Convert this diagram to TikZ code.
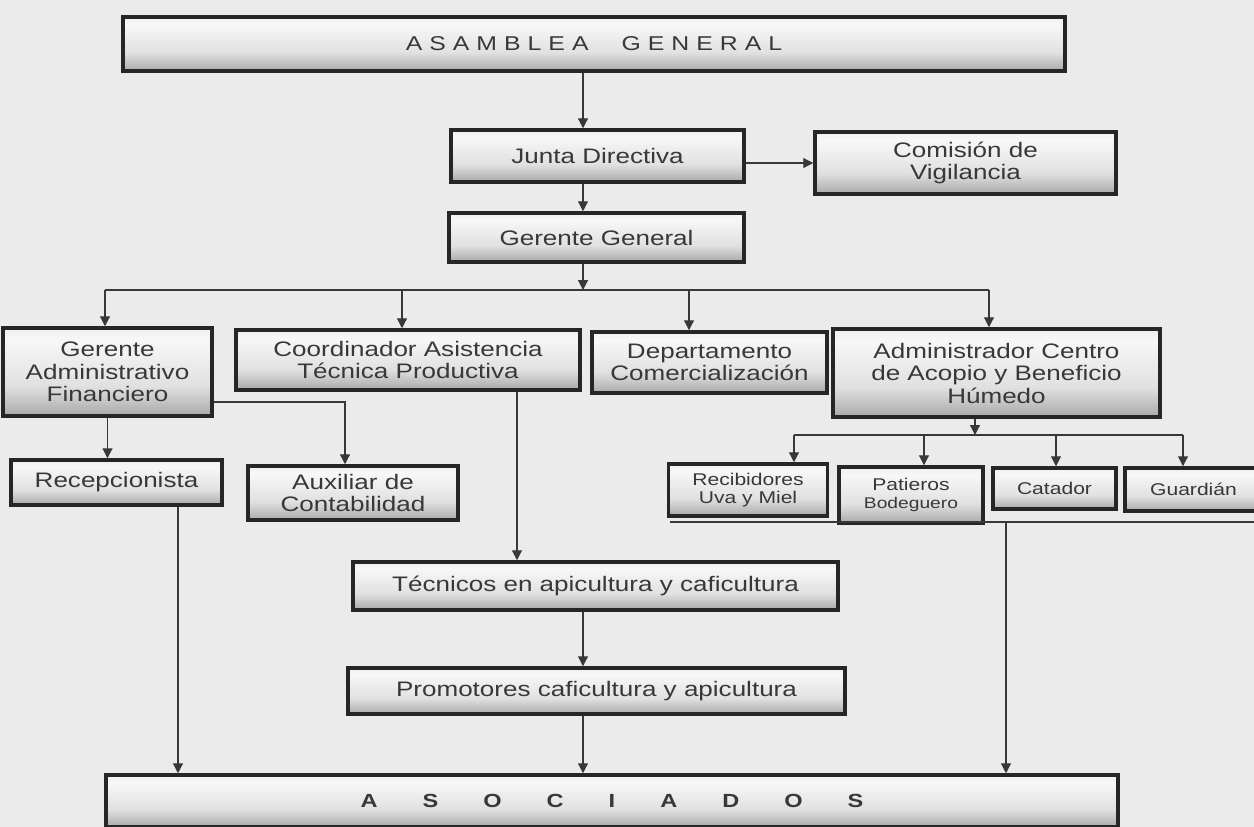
\documentclass[tikz,border=0pt]{standalone}
\usepackage{fontspec}
\setmainfont{Liberation Sans}[FakeStretch=1.24]
\usetikzlibrary{arrows.meta}
\pgfdeclareverticalshading{cajagris}{100bp}{color(0bp)=(black!72); color(14bp)=(black!48); color(42bp)=(black!12); color(68bp)=(black!3); color(88bp)=(black!12); color(100bp)=(black!32)}
\tikzset{
  caja/.style={draw=black!85,line width=3.5pt,shading=cajagris,shade,align=center,text=black!78,inner sep=0pt,font=\fontsize{21}{22.5}\selectfont},
  cajita/.style={caja,font=\fontsize{17}{18.5}\selectfont},
  enlace/.style={line width=1.2pt,draw=black!78}
}
\begin{document}
\begin{tikzpicture}[x=1pt,y=-1pt,>={Triangle[length=10pt,width=10pt]}]
\useasboundingbox (0,0) rectangle (1254,827);
\fill[black!8] (0,0) rectangle (1254,827);
% cajas
\node[caja,minimum width=942pt,minimum height=54pt] (asam) at (594,44) {{\fontsize{20}{22}\selectfont\spaceskip=7pt A S A M B L E A\hspace{33pt}G E N E R A L}};
\node[caja,minimum width=293pt,minimum height=52pt] (junta) at (597.5,156) {Junta Directiva};
\node[caja,minimum width=301pt,minimum height=62pt] (comision) at (965.5,163) {Comisión de\\Vigilancia};
\node[caja,minimum width=295pt,minimum height=49pt] (gerente) at (596.5,237.5) {Gerente General};
\node[caja,minimum width=209pt,minimum height=88pt] (gaf) at (107.5,372) {Gerente\\Administrativo\\Financiero};
\node[caja,minimum width=344pt,minimum height=60pt] (coord) at (408,360) {Coordinador Asistencia\\Técnica Productiva};
\node[caja,minimum width=235pt,minimum height=61pt] (depto) at (709.5,362.5) {Departamento\\Comercialización};
\node[caja,minimum width=327pt,minimum height=88pt] (admin) at (996.5,373) {Administrador Centro\\de Acopio y Beneficio\\Húmedo};
\node[caja,minimum width=211pt,minimum height=45pt] (recep) at (116.5,482.5) {Recepcionista};
\node[caja,minimum width=210pt,minimum height=54pt] (aux) at (353,493) {Auxiliar de\\Contabilidad};
\node[caja,minimum width=485pt,minimum height=48pt] (tecnicos) at (595.5,586) {Técnicos en apicultura y caficultura};
\node[caja,minimum width=497pt,minimum height=46pt] (promot) at (596.5,691) {Promotores caficultura y apicultura};
\node[caja,minimum width=1012pt,minimum height=52pt] (asoc) at (612,801) {{\fontsize{19}{21}\selectfont\bfseries\spaceskip=45pt A S O C I A D O S}};
\node[cajita,minimum width=159pt,minimum height=52pt] (recib) at (748,490) {Recibidores\\Uva y Miel};
\node[cajita,minimum width=144pt,minimum height=56pt] (patieros) at (911,495) {Patieros\\{\fontsize{15.5}{17}\selectfont Bodeguero}};
\node[cajita,minimum width=123pt,minimum height=41pt] (catador) at (1054.5,488.5) {Catador};
\node[cajita,minimum width=137pt,minimum height=43pt] (guardian) at (1193.5,489.5) {Guardián};
% enlaces
\coordinate (eje) at (583,0);
\draw[enlace,->] (asam.south -| eje) -- (junta.north -| eje);
\draw[enlace,->] (junta.south -| eje) -- (gerente.north -| eje);
\draw[enlace,->] (junta.east |- comision.west) -- (comision.west);
\coordinate (b1) at (105,290);
\coordinate (b2) at (402,290);
\coordinate (b3) at (689,290);
\coordinate (b4) at (989,290);
\draw[enlace,->] (gerente.south -| eje) -- (eje |- b1);
\draw[enlace] (b1) -- (b4);
\foreach \b/\n in {b1/gaf,b2/coord,b3/depto,b4/admin}
  \draw[enlace,->] (\b) -- (\b |- \n.north);
\draw[enlace,->] (gaf.south) -- (gaf.south |- recep.north);
\coordinate (giro) at (345,402);
\draw[enlace,->] (gaf.east |- giro) -- (giro) -- (giro |- aux.north);
\coordinate (colT) at (517,0);
\draw[enlace,->] (coord.south -| colT) -- (tecnicos.north -| colT);
\draw[enlace,->] (tecnicos.south -| eje) -- (promot.north -| eje);
\draw[enlace,->] (promot.south -| eje) -- (asoc.north -| eje);
\coordinate (colR) at (178,0);
\draw[enlace,->] (recep.south -| colR) -- (asoc.north -| colR);
\coordinate (s0) at (975,435);
\coordinate (s1) at (794,435);
\coordinate (s2) at (924,435);
\coordinate (s3) at (1056,435);
\coordinate (s4) at (1183,435);
\draw[enlace,->] (admin.south -| s0) -- (s0);
\draw[enlace] (s1) -- (s4);
\foreach \s/\n in {s1/recib,s2/patieros,s3/catador,s4/guardian}
  \draw[enlace,->] (\s) -- (\s |- \n.north);
\coordinate (r0) at (670,522);
\coordinate (r1) at (1006,522);
\coordinate (r2) at (1254,522);
\draw[enlace] (r0) -- (r2);
\draw[enlace,->] (r1) -- (r1 |- asoc.north);
\end{tikzpicture}
\end{document}
